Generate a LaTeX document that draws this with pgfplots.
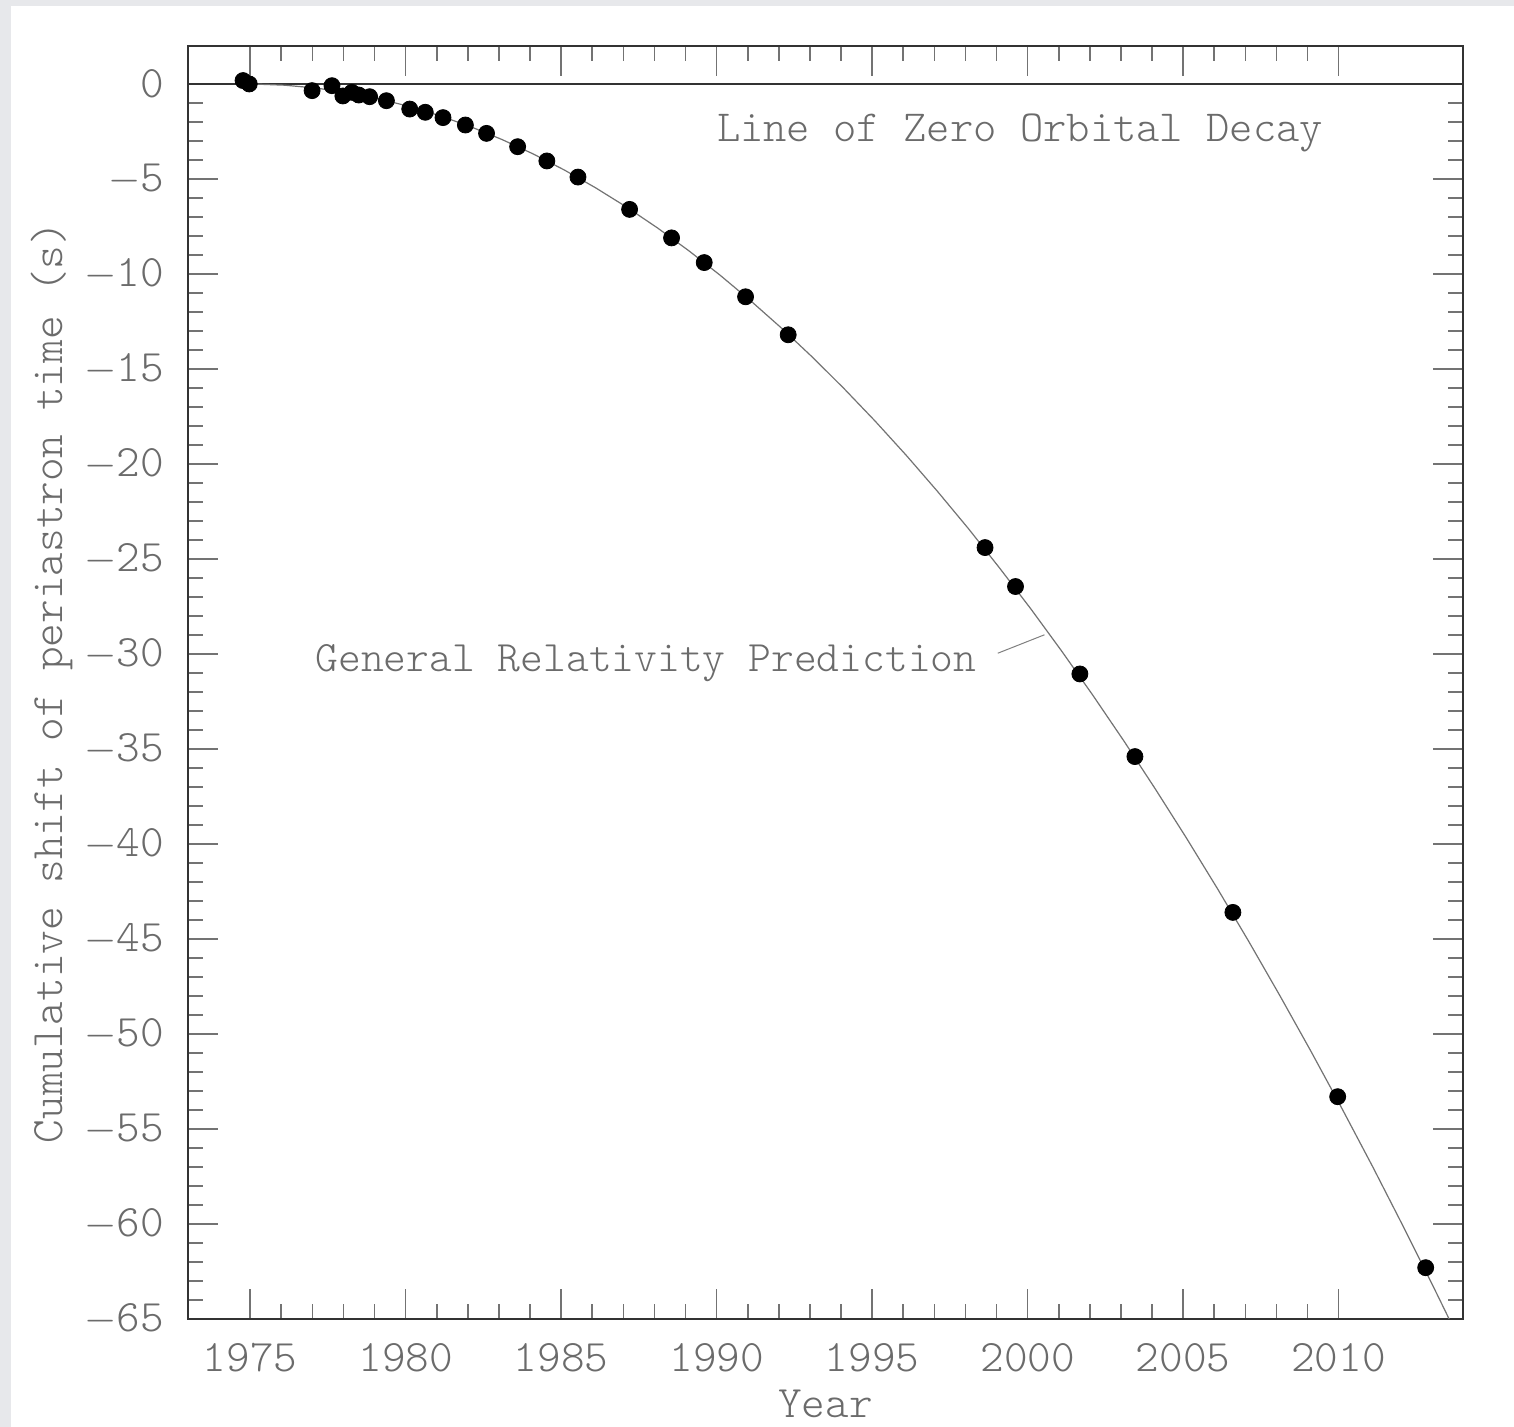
\documentclass[border=0pt]{standalone}
\usepackage{pgfplots}
\pgfplotsset{compat=1.18}
\definecolor{txt}{HTML}{6B6B6B}
\definecolor{bgg}{HTML}{E7E8EB}
\newcommand{\lf}{\fontsize{22.5}{27}\selectfont\fontseries{l}\ttfamily}
\newcommand{\lfs}{\fontsize{21.7}{26}\selectfont\fontseries{l}\ttfamily}
\newcommand{\lfz}{\fontsize{22.2}{26}\selectfont\fontseries{l}\ttfamily}
\begin{document}
\begin{tikzpicture}
\useasboundingbox (0pt,0pt) rectangle (757pt,713.5pt);
\fill[bgg] (0pt,0pt) rectangle (757pt,713.5pt);
\fill[white] (5.5pt,0pt) rectangle (757pt,710.5pt);
\begin{axis}[
  at={(94pt,54pt)}, anchor=south west,
  scale only axis, width=637.5pt, height=636.5pt,
  xmin=1973, xmax=2014, ymin=-65, ymax=2,
  xtick={1975,1980,1985,1990,1995,2000,2005,2010},
  xticklabels={1975,1980,1985,1990,1995,2000,2005,2010},
  minor x tick num=4,
  ytick={-65,-60,-55,-50,-45,-40,-35,-30,-25,-20,-15,-10,-5,0},
  yticklabels={$-$65,$-$60,$-$55,$-$50,$-$45,$-$40,$-$35,$-$30,$-$25,$-$20,$-$15,$-$10,$-$5,0},
  minor y tick num=4,
  tick align=inside, xtick pos=both, ytick pos=both,
  major tick length=15pt, minor tick length=7.5pt,
  every tick/.style={color=black!55, line width=0.8pt},
  axis line style={line width=1.3pt, color=black!80},
  tick label style={font=\lf, text=txt},
  xticklabel style={yshift=-8.5pt},
  yticklabel style={xshift=-8.5pt},
  xlabel={Year}, ylabel={Cumulative shift of periastron time (s)},
  every axis x label/.style={at={(axis description cs:0.5,-0.0775)}, anchor=base, inner sep=0pt, font=\lf, text=txt},
  every axis y label/.style={at={(axis description cs:-0.1067,0.5)}, anchor=center, rotate=90, font=\lf, text=txt},
]
\addplot[black!80, line width=0.9pt] coordinates {(1973,0) (2014,0)};
\addplot[black!55, line width=0.6pt] coordinates {
(1974.9,0) (1975.1,-0.002) (1976.1,-0.063) (1977.1,-0.211) (1978.1,-0.445) (1979.1,-0.767)
(1980.1,-1.176) (1981.1,-1.672) (1982.1,-2.255) (1983.1,-2.925) (1984.1,-3.682)
(1985.1,-4.526) (1986.1,-5.457) (1987.1,-6.475) (1988.1,-7.579) (1989.1,-8.771)
(1990.1,-10.05) (1991.1,-11.42) (1992.1,-12.87) (1993.1,-14.41) (1994.1,-16.04)
(1995.1,-17.75) (1996.1,-19.55) (1997.1,-21.44) (1998.1,-23.41) (1999.1,-25.48)
(2000.1,-27.62) (2001.1,-29.86) (2002.1,-32.18) (2003.1,-34.59) (2004.1,-37.09)
(2005.1,-39.67) (2006.1,-42.34) (2007.1,-45.10) (2008.1,-47.95) (2009.1,-50.88)
(2010.1,-53.90) (2011.1,-57.00) (2012.1,-60.20) (2013.1,-63.48) (2013.7,-65.49)
};
\addplot[only marks, mark=*, mark size=4pt, black] coordinates {
(1974.77,0.18) (1974.97,0.0) (1976.99,-0.35) (1977.63,-0.09) (1977.98,-0.63)
(1978.27,-0.44) (1978.49,-0.58) (1978.84,-0.67) (1979.38,-0.88) (1980.13,-1.32)
(1980.63,-1.49) (1981.20,-1.77) (1981.92,-2.16) (1982.60,-2.60) (1983.60,-3.30)
(1984.54,-4.05) (1985.54,-4.90) (1987.20,-6.60) (1988.55,-8.10) (1989.60,-9.40)
(1990.93,-11.20) (1992.30,-13.20) (1998.63,-24.40) (1999.61,-26.45) (2001.68,-31.05)
(2003.45,-35.40) (2006.60,-43.60) (2009.97,-53.30) (2012.80,-62.30)
};
\node[anchor=west, inner sep=0pt, font=\lfz, text=txt] at (axis cs:1990.0,-2.55) {Line of Zero Orbital Decay};
\node[anchor=west, inner sep=0pt, font=\lfs, text=txt] at (axis cs:1977.09,-30.5) {General Relativity Prediction};
\draw[black!50, line width=0.5pt] (axis cs:1999.04,-29.96) -- (axis cs:2000.54,-28.99);
\end{axis}
\end{tikzpicture}
\end{document}
